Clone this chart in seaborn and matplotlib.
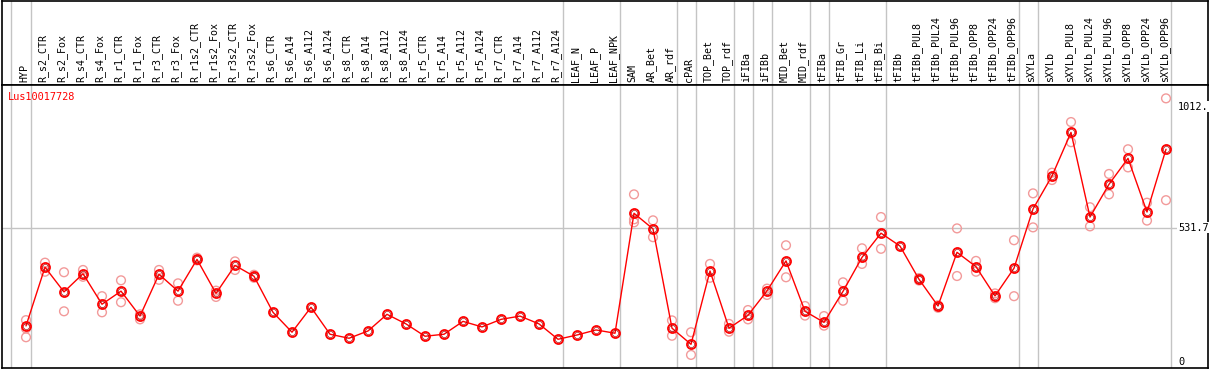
import numpy as np
import pandas as pd
import matplotlib
matplotlib.use("Agg")
import matplotlib.pyplot as plt
import seaborn as sns

gene_id = "Lus10017728"

samples = [
    "HYP", "R_s2_CTR", "R_s2_Fox", "R_s4_CTR", "R_s4_Fox", "R_r1_CTR", "R_r1_Fox",
    "R_r3_CTR", "R_r3_Fox", "R_r1s2_CTR", "R_r1s2_Fox", "R_r3s2_CTR", "R_r3s2_Fox",
    "R_s6_CTR", "R_s6_A14", "R_s6_A112", "R_s6_A124", "R_s8_CTR", "R_s8_A14",
    "R_s8_A112", "R_s8_A124", "R_r5_CTR", "R_r5_A14", "R_r5_A112", "R_r5_A124",
    "R_r7_CTR", "R_r7_A14", "R_r7_A112", "R_r7_A124", "LEAF_N", "LEAF_P", "LEAF_NPK",
    "SAM", "AR_Bet", "AR_rdf", "cPAR", "TOP_Bet", "TOP_rdf", "iFIBa", "iFIBb",
    "MID_Bet", "MID_rdf", "tFIBa", "tFIB_Gr", "tFIB_Li", "tFIB_Bi", "tFIBb",
    "tFIBb_PUL8", "tFIBb_PUL24", "tFIBb_PUL96", "tFIBb_OPP8", "tFIBb_OPP24", "tFIBb_OPP96",
    "sXYLa", "sXYLb", "sXYLb_PUL8", "sXYLb_PUL24", "sXYLb_PUL96", "sXYLb_OPP8",
    "sXYLb_OPP24", "sXYLb_OPP96",
]

mean_vals = [
    142, 375, 277, 349, 228, 280, 181, 347, 280, 406, 271, 382, 339,
    196, 117, 216, 109, 93, 122, 188, 150, 101, 109, 160, 138, 168, 181, 150, 89,
    106, 126, 113,
    589, 527, 133, 69, 360, 133, 184, 281, 400, 200, 156, 279, 414, 510, 459,
    327, 221, 434, 377, 261, 371,
    606, 737, 910, 574, 704, 807, 594, 843,
]

rep_vals = [
    [165, 132, 97], [393, 357], [355, 200], [364, 337], [260, 196], [323, 236],
    [168, 188], [364, 325], [311, 242], [413, 402], [282, 257], [398, 364], [345, 333],
    [], [], [], [], [], [], [], [], [], [], [], [], [], [], [], [],
    [], [], [],
    [664, 565, 553], [561, 494], [164, 103], [117, 27], [388, 333], [150, 119],
    [205, 168], [290, 265], [462, 335], [221, 183], [181, 143], [315, 242],
    [450, 388], [574, 448], [],
    [332, 322], [224, 214], [529, 340], [400, 357], [271, 252], [482, 260],
    [668, 533], [750, 721], [951, 871], [613, 537], [745, 664], [843, 771],
    [631, 560], [1045, 641],
]

# last sample of each tissue group (separator drawn just after it)
group_ends = [0, 28, 31, 34, 35, 37, 38, 39, 41, 42, 45, 52, 53, 60]
y_ticks = [0, 531.7, 1012]
y_tick_labels = ["0", "531.7", "1012."]

W, H = 1209, 370
sns.set_theme(style="white")
plt.rcParams["font.family"] = ["DejaVu Sans Mono"]

fig = plt.figure(figsize=(W / 100, H / 100), dpi=100)
head_top = 85
plot_bot = 368
x_left, x_right = 2, 1208
ax_head = fig.add_axes([x_left / W, 1 - head_top / H, (x_right - x_left) / W, head_top / H - 0.002])
ax = fig.add_axes([x_left / W, 1 - plot_bot / H, (x_right - x_left) / W, (plot_bot - head_top) / H])

# x: point i at pixel 26 + 19 i ; y: 0 at pixel 361.7, 0.252 px per unit
x0, dx = 26, 19
xlim = ((x_left - x0) / dx, (x_right - x0) / dx)
y0, k = 361.7, 0.2520
ylim = ((y0 - plot_bot) / k, (y0 - head_top) / k)

idx = np.arange(len(samples))
df_mean = pd.DataFrame({"x": idx, "value": mean_vals})
rows = [(i, v) for i, reps in enumerate(rep_vals) for v in reps]
df_rep = pd.DataFrame(rows, columns=["x", "value"])

grid_col = "#c4c4c4"
for a in (ax, ax_head):
    a.axvline(-0.8, color=grid_col, lw=1, zorder=0)
    for g in group_ends:
        a.axvline(g + 0.24, color=grid_col, lw=1, zorder=0)
ax.axhline(531.7, color=grid_col, lw=1, zorder=0)

sns.scatterplot(data=df_rep, x="x", y="value", ax=ax, marker="o", s=40,
                fc="none", ec="#f29a9a", linewidth=1.0, zorder=2, legend=False)
sns.lineplot(data=df_mean, x="x", y="value", ax=ax, color="#ff0000", lw=1,
             marker="o", ms=6.5, mfc="none", mec="#ff0000", mew=1.3, zorder=3)
ax.plot(idx, mean_vals, ls="none", marker="o", ms=4.4, mfc="none",
        mec="#a00000", mew=0.45, zorder=4)

ax.set_xlim(*xlim)
ax.set_ylim(*ylim)
ax_head.set_xlim(*xlim)
ax_head.set_ylim(0, 1)
for a in (ax, ax_head):
    a.set_xticks([])
    a.set_yticks([])
    a.set_xlabel("")
    a.set_ylabel("")
    for sp in a.spines.values():
        sp.set_color("black")
        sp.set_linewidth(1.2)

for i, name in enumerate(samples):
    ax_head.text(i - 0.1, 0.03, name, rotation=90, ha="center", va="bottom",
                 fontsize=7.2, color="black")

ax.text((8 - x0) / dx, (y0 - 97) / k, gene_id, color="#ff0000", fontsize=7.4,
        ha="left", va="center")
for v, lab in zip(y_ticks, y_tick_labels):
    ax.text((1178 - x0) / dx, v, lab, fontsize=7.4, ha="left", va="center",
            color="black", bbox=dict(fc="white", ec="none", pad=0.5), zorder=5)

fig.savefig("out.png", dpi=100)
